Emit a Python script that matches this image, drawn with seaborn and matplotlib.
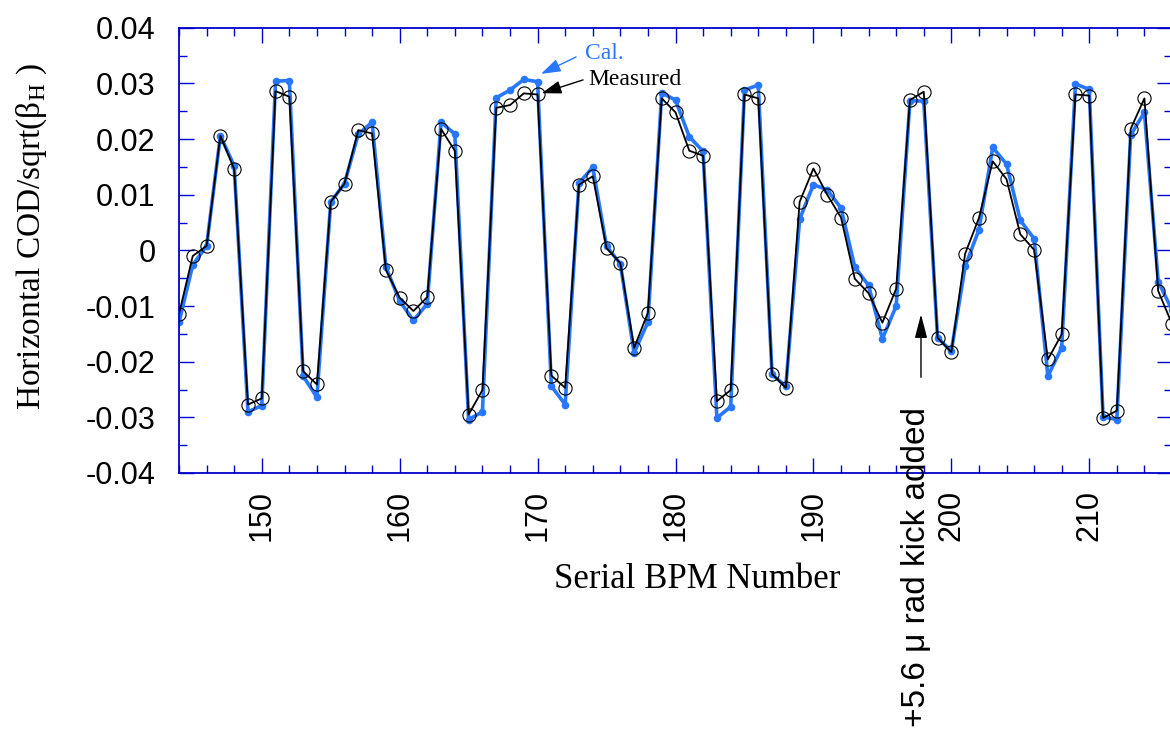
import numpy as np
import pandas as pd
import seaborn as sns
import matplotlib.pyplot as plt
from matplotlib.ticker import MultipleLocator, FuncFormatter

# ─── DATA ─────────────────────────────────────────────
bpm = list(range(144, 217))

measured = [
    -0.0114, -0.0010, 0.0008, 0.0206, 0.0146, -0.0277, -0.0266, 0.0286, 0.0276, -0.0217,
    -0.0241, 0.0087, 0.0120, 0.0216, 0.0210, -0.0035, -0.0085, -0.0109, -0.0084, 0.0218,
    0.0179, -0.0295, -0.0251, 0.0256, 0.0261, 0.0282, 0.0280, -0.0225, -0.0247, 0.0118,
    0.0133, 0.0004, -0.0023, -0.0175, -0.0112, 0.0273, 0.0248, 0.0179, 0.0170, -0.0271,
    -0.0251, 0.0280, 0.0273, -0.0222, -0.0247, 0.0087, 0.0147, 0.0100, 0.0059, -0.0051,
    -0.0077, -0.0130, -0.0069, 0.0270, 0.0285, -0.0157, -0.0183, -0.0006, 0.0058, 0.0160,
    0.0128, 0.0029, 0.0001, -0.0196, -0.0151, 0.0280, 0.0278, -0.0301, -0.0288, 0.0218,
    0.0273, -0.0073, -0.0132,
]

calc = [
    -0.0129, -0.0026, 0.0008, 0.0206, 0.0152, -0.0290, -0.0279, 0.0304, 0.0305, -0.0226,
    -0.0264, 0.0087, 0.0120, 0.0209, 0.0230, -0.0030, -0.0091, -0.0126, -0.0096, 0.0230,
    0.0209, -0.0304, -0.0290, 0.0274, 0.0288, 0.0307, 0.0303, -0.0244, -0.0277, 0.0121,
    0.0149, 0.0007, -0.0024, -0.0184, -0.0129, 0.0283, 0.0270, 0.0204, 0.0178, -0.0301,
    -0.0281, 0.0288, 0.0297, -0.0223, -0.0244, 0.0056, 0.0118, 0.0109, 0.0076, -0.0030,
    -0.0063, -0.0159, -0.0100, 0.0269, 0.0268, -0.0157, -0.0181, -0.0029, 0.0037, 0.0185,
    0.0155, 0.0054, 0.0021, -0.0226, -0.0175, 0.0299, 0.0289, -0.0299, -0.0304, 0.0207,
    0.0248, -0.0056, -0.0107,
]

xticks = [150, 160, 170, 180, 190, 200, 210]
kick_bpm = 197.8

BLUE = "#2878ff"
SPINE = "#0000cc"

df = pd.DataFrame({"bpm": bpm, "measured": measured, "cal": calc})

# ─── STYLE ────────────────────────────────────────────
sns.set_style("ticks")
plt.rcParams["font.family"] = ["Liberation Sans", "DejaVu Sans"]
plt.rcParams["mathtext.fontset"] = "custom"
plt.rcParams["mathtext.rm"] = "Liberation Serif"
plt.rcParams["text.color"] = "black"
plt.rcParams["axes.labelcolor"] = "black"
plt.rcParams["xtick.labelcolor"] = "black"
plt.rcParams["ytick.labelcolor"] = "black"

fig = plt.figure(figsize=(11.7, 7.36), dpi=100)
ax = fig.add_axes([179 / 1170, 263 / 736, 993 / 1170, 445.3 / 736])

# ─── LINES ────────────────────────────────────────────
sns.lineplot(data=df, x="bpm", y="cal", ax=ax, color=BLUE, lw=2.6,
             marker="o", markersize=5.5, markeredgewidth=0, zorder=2)
sns.lineplot(data=df, x="bpm", y="measured", ax=ax, color="black", lw=1.3,
             marker="o", markersize=9.5, markerfacecolor="none",
             markeredgecolor="black", markeredgewidth=0.8, zorder=3)

# ─── AXES ─────────────────────────────────────────────
ax.set_xlim(144, 216)
ax.set_ylim(-0.04, 0.04)
ax.set_xticks(xticks)
ax.xaxis.set_minor_locator(MultipleLocator(2))
ax.yaxis.set_major_locator(MultipleLocator(0.01))
ax.yaxis.set_minor_locator(MultipleLocator(0.005))
ax.yaxis.set_major_formatter(FuncFormatter(lambda v, p: "%g" % round(v, 4)))

ax.tick_params(which="both", direction="in", top=True, right=True,
               color=SPINE, width=1.0)
ax.tick_params(which="major", length=11, labelsize=22)
ax.tick_params(which="minor", length=6)
ax.tick_params(axis="y", pad=17)
ax.tick_params(axis="x", labelrotation=90, pad=12)
for s in ax.spines.values():
    s.set_color(SPINE)
    s.set_linewidth(1.3)

ax.set_xlabel("Serial BPM Number", fontsize=25, family="Liberation Serif", va="center")
ax.xaxis.set_label_coords(0.5217, -0.240)
ax.set_ylabel(r"Horizontal COD/sqrt(β$_{\mathrm{H}}$ )", fontsize=24,
              family="Liberation Serif", va="center")
ax.yaxis.set_label_coords(-0.148, 0.532)

# ─── ANNOTATIONS ──────────────────────────────────────
ax.text(173.44, 0.03439, "Cal.", color=BLUE, fontsize=17,
        family="Liberation Serif", va="baseline", ha="left")
ax.text(173.66, 0.02972, "Measured", color="black", fontsize=17,
        family="Liberation Serif", va="baseline", ha="left")
ax.annotate("", xy=(170.25, 0.0317), xytext=(172.79, 0.03474),
            arrowprops=dict(arrowstyle="-|>,head_length=1.2,head_width=0.4",
                            color=BLUE, lw=1.0, shrinkA=0, shrinkB=0,
                            mutation_scale=10))
ax.annotate("", xy=(170.3, 0.02823), xytext=(173.3, 0.03062),
            arrowprops=dict(arrowstyle="-|>,head_length=1.2,head_width=0.4",
                            color="black", lw=1.0, shrinkA=0, shrinkB=0,
                            mutation_scale=10))

ax.annotate("", xy=(kick_bpm, -0.0115), xytext=(kick_bpm, -0.0228),
            arrowprops=dict(arrowstyle="-|>,head_length=1.45,head_width=0.38",
                            color="black", lw=1.0, shrinkA=0, shrinkB=0,
                            mutation_scale=10))
ax.text(197.48, -0.0282, "+5.6 μ rad kick added", rotation=90, fontsize=24,
        ha="center", va="top", clip_on=False)

fig.savefig("out.png", dpi=100)
